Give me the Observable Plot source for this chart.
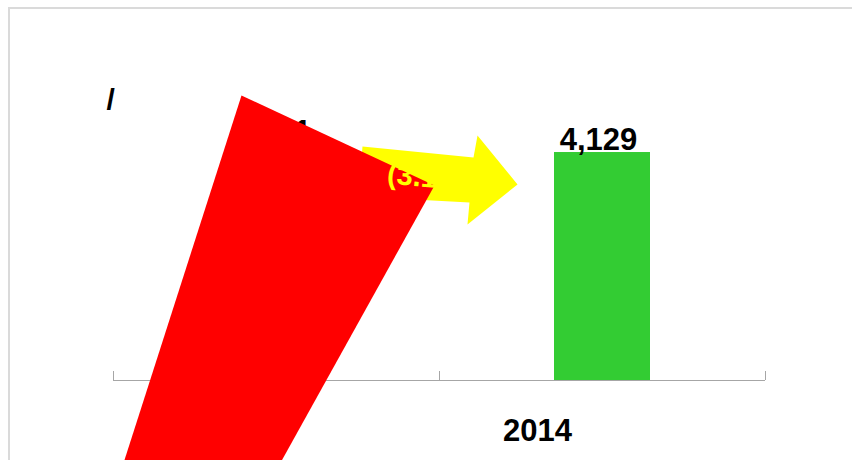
<!DOCTYPE html>
<html>
<head>
<meta charset="utf-8">
<script src="https://cdn.jsdelivr.net/npm/d3@7"></script>
<script src="https://cdn.jsdelivr.net/npm/@observablehq/plot@0.6"></script>
<style>
  html, body { margin: 0; padding: 0; background: #fff; overflow: hidden; }
  #wrap { position: relative; width: 852px; height: 460px; overflow: hidden; }
  #border { position: absolute; left: 8px; top: 7px; width: 2000px; height: 2000px;
            border-top: 2px solid #dadada; border-left: 2px solid #dadada; pointer-events: none; }
</style>
</head>
<body>
<div id="wrap"><div id="border"></div></div>
<script>
// ---- data ----
const years = ["2013", "2014"];
const values = [4261, 4129];
const changeText = "(3.1%)";
const titleText = "/";

// decorative shapes, in data units (x: category index, y: value)
const redShapeX = [-0.1074, 0.4847, -0.0520, -0.5061];
const redShapeY = [5162, 3532, -2173, -2173];
const arrowX = [0.2638, 0.6043, 0.6166, 0.7393, 0.5859, 0.5920, 0.2515];
const arrowY = [4238, 4039, 4437, 3550, 2825, 3224, 3332];

const data = years.map((y, i) => ({i, year: y, value: values[i]}));
const red = redShapeX.map((x, k) => ({x, y: redShapeY[k]}));
const arrow = arrowX.map((x, k) => ({x, y: arrowY[k]}));
const boundaries = d3.range(-0.5, years.length, 1);

const chart = Plot.plot({
  width: 852,
  height: 460,
  marginLeft: 113,
  marginRight: 87,
  marginTop: 20,
  marginBottom: 80,
  style: {fontFamily: "'Liberation Sans', Arial, sans-serif", background: "transparent", overflow: "hidden"},
  x: {type: "linear", domain: [-0.5, years.length - 0.5], label: null},
  y: {domain: [0, 6520], axis: null},
  marks: [
    Plot.rectY(data, {x1: d => d.i - 0.5, x2: d => d.i + 0.5, y: "value", fill: "#33CC33", insetLeft: 115, insetRight: 115}),
    Plot.text(data, {x: "i", y: "value", text: d => d3.format(",")(d.value), lineAnchor: "bottom", dx: -4, dy: -3,
                     fontSize: 31, fontWeight: "bold", fill: "black"}),
    Plot.ruleY([0], {stroke: "#a6a6a6", strokeWidth: 1}),
    Plot.axisX({ticks: boundaries, tickSize: 9, dy: -9, tickFormat: () => "", stroke: "#a6a6a6"}),
    Plot.axisX({ticks: d3.range(years.length), tickFormat: i => years[i], tickSize: 0, tickPadding: 38, dx: -65,
                fontSize: 31, fontWeight: "bold", fill: "black"}),
    Plot.text([titleText], {frameAnchor: "top-left", text: d => d, textAnchor: "start", lineAnchor: "bottom",
                            dx: -7, dy: 89, fontSize: 30, fontWeight: "bold", fill: "black"}),
    Plot.line(arrow, {x: "x", y: "y", curve: "linear-closed", fill: "#FFFF00", stroke: "none"}),
    Plot.line(red, {x: "x", y: "y", curve: "linear-closed", fill: "#FF0000", stroke: "none"}),
    Plot.text([changeText], {x: 0.3374, y: 3568, text: d => d, textAnchor: "start", lineAnchor: "bottom", rotate: 5,
                             fontSize: 29, fontWeight: "bold", fill: "#FFFF00"})
  ]
});
document.getElementById("wrap").insertBefore(chart, document.getElementById("border"));
</script>
</body>
</html>
